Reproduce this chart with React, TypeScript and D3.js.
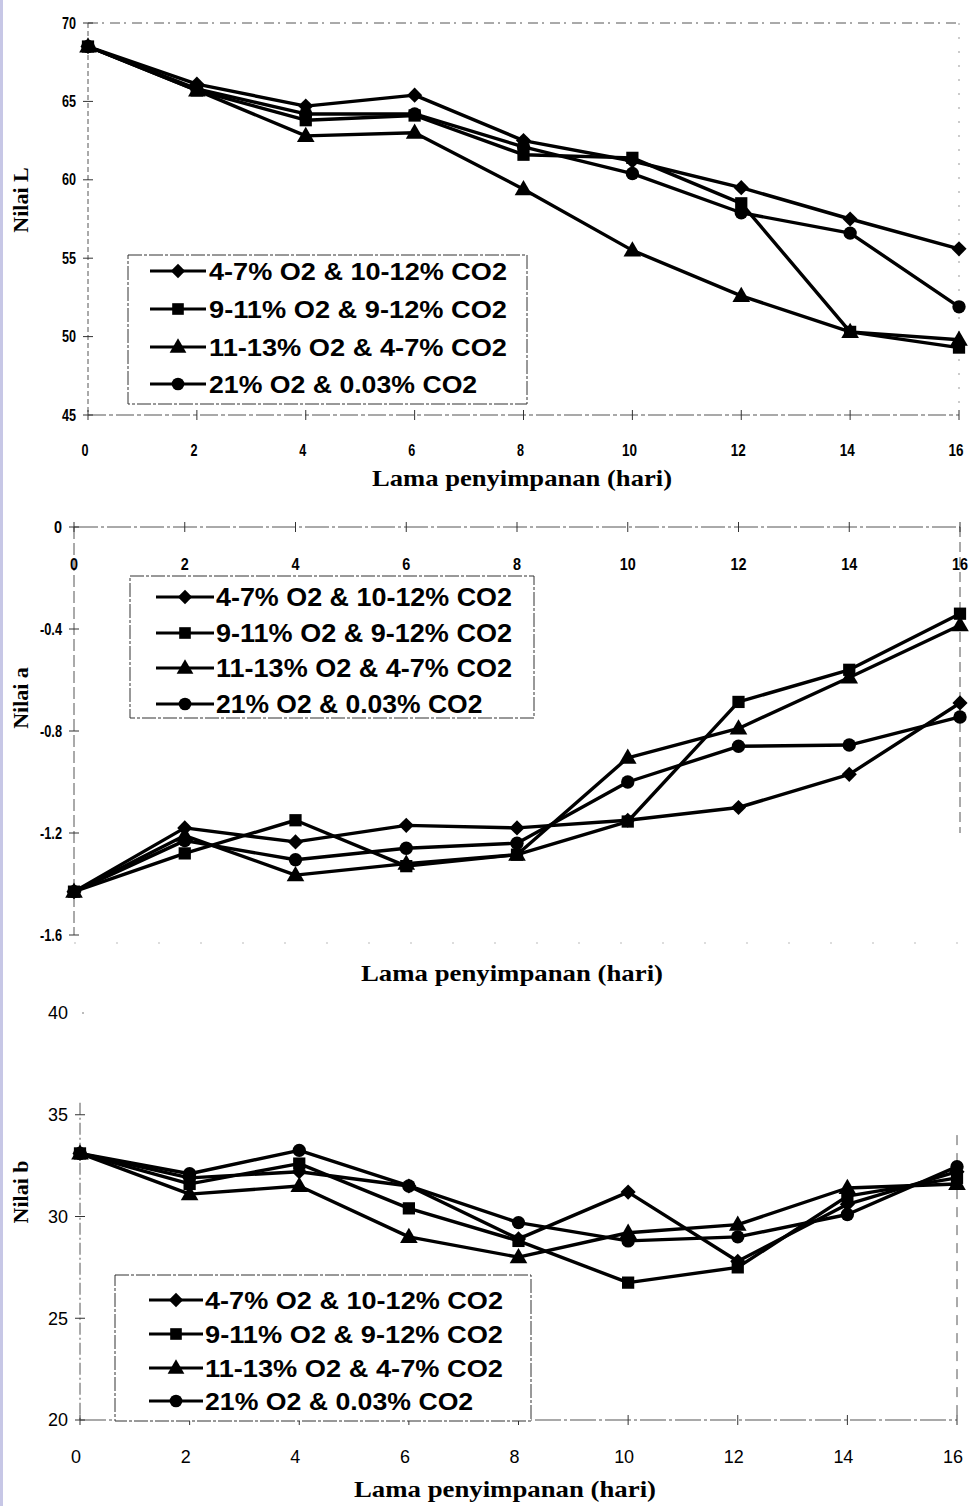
import React from "react";
import * as d3 from "d3";

const days = [0, 2, 4, 6, 8, 10, 12, 14, 16];
const seriesNames = [
  "4-7% O2 & 10-12% CO2",
  "9-11% O2 & 9-12% CO2",
  "11-13% O2 & 4-7% CO2",
  "21% O2 & 0.03% CO2",
];
const seriesShapes = ["diamond", "square", "triangle", "circle"];

// Nilai L
const L_diamond = [68.5, 66.1, 64.7, 65.4, 62.5, 61.2, 59.5, 57.5, 55.6];
const L_square = [68.5, 65.7, 63.8, 64.1, 61.6, 61.4, 58.5, 50.3, 49.3];
const L_triangle = [68.5, 65.7, 62.8, 63.0, 59.4, 55.5, 52.6, 50.3, 49.8];
const L_circle = [68.5, 65.8, 64.2, 64.2, 62.1, 60.4, 57.9, 56.6, 51.9];

// Nilai a
const A_diamond = [-1.43, -1.18, -1.235, -1.17, -1.18, -1.15, -1.1, -0.97, -0.69];
const A_square = [-1.43, -1.28, -1.15, -1.33, -1.285, -1.155, -0.686, -0.56, -0.34];
const A_triangle = [-1.43, -1.21, -1.365, -1.32, -1.285, -0.905, -0.79, -0.59, -0.385];
const A_circle = [-1.43, -1.23, -1.305, -1.26, -1.24, -1.0, -0.86, -0.855, -0.745];

// Nilai b
const B_diamond = [33.1, 31.9, 32.2, 31.5, 28.9, 31.2, 27.8, 30.6, 32.2];
const B_square = [33.1, 31.6, 32.6, 30.4, 28.8, 26.75, 27.5, 31.0, 31.9];
const B_triangle = [33.1, 31.1, 31.5, 29.0, 28.0, 29.2, 29.6, 31.4, 31.6];
const B_circle = [33.1, 32.1, 33.25, 31.5, 29.7, 28.8, 29.0, 30.1, 32.45];

const L_ticks = [45, 50, 55, 60, 65, 70];
const A_ticks = [0, -0.4, -0.8, -1.2, -1.6];
const A_tickLabels = ["0", "-0.4", "-0.8", "-1.2", "-1.6"];
const B_ticks = [20, 25, 30, 35, 40];

const xTitle = "Lama penyimpanan (hari)";

const SERIF = "'Liberation Serif', 'Times New Roman', serif";
const SANS = "'Liberation Sans', Arial, sans-serif";

function Marker({ shape, x, y, k = 1 }: { shape: string; x: number; y: number; k?: number }) {
  if (shape === "diamond") {
    const p = d3.symbol(d3.symbolSquare, 115 * k)();
    return <path d={p || ""} transform={`translate(${x},${y}) rotate(45)`} fill="#000" />;
  }
  if (shape === "square") {
    const p = d3.symbol(d3.symbolSquare, 150 * k)();
    return <path d={p || ""} transform={`translate(${x},${y})`} fill="#000" />;
  }
  if (shape === "triangle") {
    const p = d3.symbol(d3.symbolTriangle, 135 * k)();
    return <path d={p || ""} transform={`translate(${x},${y + 1})`} fill="#000" />;
  }
  const p = d3.symbol(d3.symbolCircle, 140 * k)();
  return <path d={p || ""} transform={`translate(${x},${y})`} fill="#000" />;
}

type PanelCfg = {
  data: number[][];
  x: d3.ScaleLinear<number, number>;
  y: d3.ScaleLinear<number, number>;
};

function Lines({ data, x, y }: PanelCfg) {
  const line = d3
    .line<number>()
    .x((_, i) => x(days[i]))
    .y((v) => y(v));
  return (
    <g>
      {data.map((vals, si) => (
        <path key={"l" + si} d={line(vals) || ""} fill="none" stroke="#000" strokeWidth={3.4} strokeLinejoin="round" />
      ))}
      {data.map((vals, si) =>
        vals.map((v, i) => <Marker key={`m${si}-${i}`} shape={seriesShapes[si]} x={x(days[i])} y={y(v)} />)
      )}
    </g>
  );
}

function Legend({
  x0,
  y0,
  w,
  h,
  rows,
  lineX1,
  lineX2,
  textX,
  fontSize,
  textLen,
}: {
  x0: number;
  y0: number;
  w: number;
  h: number;
  rows: number[];
  lineX1: number;
  lineX2: number;
  textX: number;
  fontSize: number;
  textLen: number;
}) {
  return (
    <g>
      <rect x={x0} y={y0} width={w} height={h} fill="#fff" stroke="#333" strokeWidth={1} strokeDasharray="14,2,3,2" />
      {seriesNames.map((name, i) => (
        <g key={name}>
          <line x1={lineX1} x2={lineX2} y1={rows[i]} y2={rows[i]} stroke="#000" strokeWidth={3} />
          <Marker shape={seriesShapes[i]} x={(lineX1 + lineX2) / 2} y={rows[i]} k={0.9} />
          <text
            x={textX}
            y={rows[i]}
            dy="0.36em"
            fontFamily={SANS}
            fontWeight="bold"
            fontSize={fontSize}
            textLength={textLen * (name.length / 20)}
            lengthAdjust="spacingAndGlyphs"
          >
            {name}
          </text>
        </g>
      ))}
    </g>
  );
}

const frameStroke = "#555";

function TopPanel() {
  const x = d3.scaleLinear().domain([0, 16]).range([88, 959]);
  const y = d3.scaleLinear().domain([45, 70]).range([415, 23]);
  const data = [L_diamond, L_square, L_triangle, L_circle];
  return (
    <g>
      <line x1={x(0)} x2={x(16)} y1={y(70)} y2={y(70)} stroke={frameStroke} strokeWidth={1} strokeDasharray="10,4,2,6" />
      <line x1={x(0)} x2={x(0)} y1={y(70)} y2={y(45)} stroke={frameStroke} strokeWidth={1} strokeDasharray="5,3" />
      <line x1={x(16)} x2={x(16)} y1={y(70)} y2={y(45)} stroke="#999" strokeWidth={1} strokeDasharray="2,12" />
      <line x1={x(0)} x2={x(16)} y1={y(45)} y2={y(45)} stroke={frameStroke} strokeWidth={1.2} strokeDasharray="18,3,4,3" />
      {L_ticks.map((t) => (
        <g key={"yt" + t}>
          <line x1={x(0) - 5} x2={x(0) + 5} y1={y(t)} y2={y(t)} stroke="#333" strokeWidth={1} />
          <text x={76} y={y(t)} dy="0.35em" textAnchor="end" fontFamily={SANS} fontWeight="bold" fontSize={16} textLength={14} lengthAdjust="spacingAndGlyphs">
            {t}
          </text>
        </g>
      ))}
      {days.map((d) => (
        <g key={"xt" + d}>
          <line x1={x(d)} x2={x(d)} y1={y(45) - 5} y2={y(45) + 5} stroke="#333" strokeWidth={1} />
          <text x={x(d) - 3} y={456} textAnchor="middle" fontFamily={SANS} fontWeight="bold" fontSize={16} textLength={d >= 10 ? 15 : 7} lengthAdjust="spacingAndGlyphs">
            {d}
          </text>
        </g>
      ))}
      <text x={522} y={486} textAnchor="middle" fontFamily={SERIF} fontWeight="bold" fontSize={23} textLength={300} lengthAdjust="spacingAndGlyphs">
        {xTitle}
      </text>
      <text transform="translate(28,200) rotate(-90)" textAnchor="middle" fontFamily={SERIF} fontWeight="bold" fontSize={22}>
        Nilai L
      </text>
      <Legend x0={128} y0={255} w={399} h={149} rows={[271, 309, 347, 384]} lineX1={150} lineX2={206} textX={209} fontSize={24} textLen={298} />
      <Lines data={data} x={x} y={y} />
    </g>
  );
}

function MiddlePanel() {
  const x = d3.scaleLinear().domain([0, 16]).range([74, 960]);
  const y = d3.scaleLinear().domain([-1.6, 0]).range([935, 527]);
  const data = [A_diamond, A_square, A_triangle, A_circle];
  return (
    <g>
      <line x1={x(0)} x2={x(16)} y1={y(0)} y2={y(0)} stroke={frameStroke} strokeWidth={1} strokeDasharray="24,3,3,3" />
      <line x1={x(0)} x2={x(0)} y1={y(0)} y2={y(-1.6)} stroke={frameStroke} strokeWidth={1} strokeDasharray="12,4" />
      <line x1={x(16)} x2={x(16)} y1={y(0)} y2={y(-1.2)} stroke={frameStroke} strokeWidth={1} strokeDasharray="10,5" />
      <line x1={x(0)} x2={x(16)} y1={y(-1.6) + 8} y2={y(-1.6) + 8} stroke="#bbb" strokeWidth={1} strokeDasharray="2,40" />
      {A_ticks.map((t, i) => (
        <g key={"yt" + t}>
          <line x1={x(0) - 5} x2={x(0) + 5} y1={y(t)} y2={y(t)} stroke="#333" strokeWidth={1} />
          <text x={62} y={y(t)} dy="0.35em" textAnchor="end" fontFamily={SANS} fontWeight="bold" fontSize={16} textLength={t === 0 ? 8 : 22} lengthAdjust="spacingAndGlyphs">
            {A_tickLabels[i]}
          </text>
        </g>
      ))}
      {days.map((d) => (
        <g key={"xt" + d}>
          <line x1={x(d)} x2={x(d)} y1={y(0) - 5} y2={y(0) + 5} stroke="#333" strokeWidth={1} />
          <text x={x(d)} y={570} textAnchor="middle" fontFamily={SANS} fontWeight="bold" fontSize={16} textLength={d >= 10 ? 16 : 8} lengthAdjust="spacingAndGlyphs">
            {d}
          </text>
        </g>
      ))}
      <text x={512} y={981} textAnchor="middle" fontFamily={SERIF} fontWeight="bold" fontSize={23} textLength={302} lengthAdjust="spacingAndGlyphs">
        {xTitle}
      </text>
      <text transform="translate(28,698) rotate(-90)" textAnchor="middle" fontFamily={SERIF} fontWeight="bold" fontSize={22}>
        Nilai a
      </text>
      <Legend x0={130} y0={576} w={404} h={142} rows={[597, 633, 668, 704]} lineX1={156} lineX2={214} textX={216} fontSize={25} textLen={296} />
      <Lines data={data} x={x} y={y} />
    </g>
  );
}

function BottomPanel() {
  const x = d3.scaleLinear().domain([0, 16]).range([80, 957]);
  const y = d3.scaleLinear().domain([20, 40]).range([1420, 1013]);
  const data = [B_diamond, B_square, B_triangle, B_circle];
  return (
    <g>
      <line x1={x(0)} x2={x(0)} y1={y(35) - 12} y2={y(20)} stroke={frameStroke} strokeWidth={1} strokeDasharray="12,3,2,3" />
      <line x1={x(16)} x2={x(16)} y1={y(34)} y2={y(20)} stroke={frameStroke} strokeWidth={1} strokeDasharray="10,8" />
      <line x1={x(0)} x2={x(16)} y1={y(20)} y2={y(20)} stroke={frameStroke} strokeWidth={1.2} strokeDasharray="26,3,3,3" />
      <circle cx={x(0) + 3} cy={y(40)} r={0.8} fill="#666" />
      {B_ticks.map((t) => (
        <g key={"yt" + t}>
          {t < 40 && <line x1={x(0) - 5} x2={x(0) + 5} y1={y(t)} y2={y(t)} stroke="#333" strokeWidth={1} />}
          <text x={68} y={y(t)} dy="0.35em" textAnchor="end" fontFamily={SANS} fontSize={18} textLength={20} lengthAdjust="spacingAndGlyphs">
            {t}
          </text>
        </g>
      ))}
      {days.map((d) => (
        <g key={"xt" + d}>
          <line x1={x(d)} x2={x(d)} y1={y(20) - 5} y2={y(20) + 5} stroke="#333" strokeWidth={1} />
          <text x={x(d) - 4} y={1463} textAnchor="middle" fontFamily={SANS} fontSize={19} textLength={d >= 10 ? 20 : 10} lengthAdjust="spacingAndGlyphs">
            {d}
          </text>
        </g>
      ))}
      <text x={505} y={1497} textAnchor="middle" fontFamily={SERIF} fontWeight="bold" fontSize={23} textLength={302} lengthAdjust="spacingAndGlyphs">
        {xTitle}
      </text>
      <text transform="translate(28,1192) rotate(-90)" textAnchor="middle" fontFamily={SERIF} fontWeight="bold" fontSize={22}>
        Nilai b
      </text>
      <Legend x0={115} y0={1275} w={416} h={146} rows={[1300, 1334, 1368, 1401]} lineX1={149} lineX2={203} textX={205} fontSize={24} textLen={298} />
      <Lines data={data} x={x} y={y} />
    </g>
  );
}

export default function App() {
  return (
    <svg
      width={973}
      height={1506}
      viewBox="0 0 973 1506"
      style={{ position: "absolute", left: 0, top: 0, background: "#fff", display: "block" }}
    >
      <rect x={0} y={0} width={973} height={1506} fill="#fff" />
      <rect x={0} y={0} width={3} height={1506} fill="#c7c7e6" />
      <TopPanel />
      <MiddlePanel />
      <BottomPanel />
    </svg>
  );
}
